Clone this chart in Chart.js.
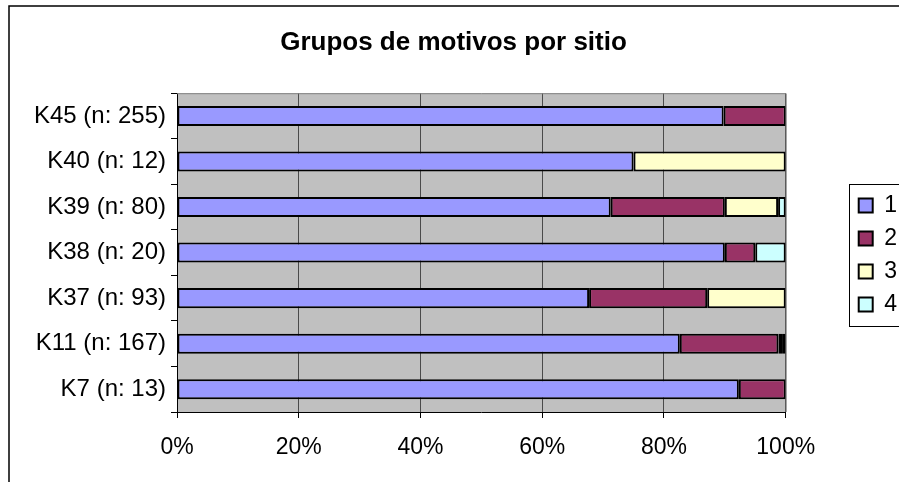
<!DOCTYPE html>
<html>
<head>
<meta charset="utf-8">
<script src="https://cdn.jsdelivr.net/npm/chart.js@4"></script>
<style>
  html, body { margin: 0; padding: 0; background: #fff; }
  #wrap { width: 899px; height: 482px; }
</style>
</head>
<body>
<div id="wrap"><canvas id="chart" width="899" height="482"></canvas></div>
<script>
// Grupos de motivos por sitio – 100% gestapelde balken

const sitios = ["K45 (n: 255)", "K40 (n: 12)", "K39 (n: 80)", "K38 (n: 20)", "K37 (n: 93)", "K11 (n: 167)", "K7 (n: 13)"];
const grupo1 = [89.8, 75, 71.25, 90, 67.7, 82.6, 92.3];
const grupo2 = [10.2, null, 18.75, 5, 19.4, 16.2, 7.7];
const grupo3 = [null, 25, 8.75, null, 12.9, 0.6, null];
const grupo4 = [null, null, 1.25, 5, null, 0.6, null];
const xTicks = ["0%", "20%", "40%", "60%", "80%", "100%"];

const FONT = "'Liberation Sans', Arial, sans-serif";

// achtergrond, plotvlak en randen
const frame = {
  id: 'frame',
  beforeDraw(chart) {
    const { ctx, chartArea: a } = chart;
    ctx.save();
    ctx.fillStyle = '#fff';
    ctx.fillRect(0, 0, chart.width, chart.height);
    ctx.fillStyle = '#C0C0C0';
    ctx.fillRect(a.left, a.top, a.right - a.left, a.bottom - a.top);
    ctx.restore();
  },
  afterDraw(chart) {
    const { ctx, chartArea: a, legend } = chart;
    ctx.save();
    // plotrand boven en rechts
    ctx.strokeStyle = '#808080';
    ctx.lineWidth = 1;
    ctx.beginPath();
    ctx.moveTo(a.left, a.top + 0.5);
    ctx.lineTo(a.right + 0.5, a.top + 0.5);
    ctx.lineTo(a.right + 0.5, a.bottom);
    ctx.stroke();
    // buitenrand
    ctx.strokeStyle = '#000';
    ctx.lineWidth = 1.5;
    ctx.beginPath();
    ctx.moveTo(9, chart.height);
    ctx.lineTo(9, 6);
    ctx.lineTo(chart.width, 6);
    ctx.stroke();
    // legendakader
    const hb = legend.legendHitBoxes;
    if (hb && hb.length) {
      const first = hb[0], last = hb[hb.length - 1];
      const top = Math.round(first.top + first.height / 2 - 22);
      const bottom = Math.round(last.top + last.height / 2 + 21);
      ctx.strokeStyle = '#000';
      ctx.lineWidth = 1;
      ctx.strokeRect(Math.round(legend.left) + 0.5, top + 0.5, 80, bottom - top);
    }
    ctx.restore();
  }
};

function ds(label, data, color) {
  return {
    label: label,
    data: data,
    backgroundColor: color,
    borderColor: '#000',
    borderWidth: 2,
    borderSkipped: false,
    barPercentage: 0.44,
    categoryPercentage: 1
  };
}

new Chart(document.getElementById('chart'), {
  type: 'bar',
  data: {
    labels: sitios,
    datasets: [
      ds('1', grupo1, '#9999FF'),
      ds('2', grupo2, '#993366'),
      ds('3', grupo3, '#FFFFCC'),
      ds('4', grupo4, '#CCFFFF')
    ]
  },
  options: {
    indexAxis: 'y',
    responsive: false,
    animation: false,
    layout: { padding: { left: 0, right: -8, top: 0, bottom: 0 } },
    plugins: {
      title: {
        display: true,
        text: 'Grupos de motivos por sitio',
        color: '#000',
        font: { family: FONT, size: 26, weight: 'bold' },
        padding: { top: 27, bottom: 35 }
      },
      legend: {
        display: true,
        position: 'right',
        // lege titel schuift de items iets omlaag
        title: { display: true, text: ' ', font: { size: 1, lineHeight: 1 }, padding: { top: 27, bottom: 0 } },
        labels: {
          color: '#000',
          font: { family: FONT, size: 23, lineHeight: 1 },
          boxWidth: 14,
          boxHeight: 14,
          padding: 10
        }
      },
      tooltip: { enabled: false }
    },
    scales: {
      x: {
        stacked: true,
        min: 0,
        max: 100,
        ticks: {
          stepSize: 20,
          color: '#000',
          padding: 16,
          font: { family: FONT, size: 23 },
          callback: (v, i) => xTicks[i]
        },
        grid: { color: '#4a4a4a', tickColor: '#000', tickLength: 6 },
        border: { color: '#000', width: 1 },
        afterFit: s => { s.height = 70; }
      },
      y: {
        stacked: true,
        ticks: { color: '#000', padding: 5, font: { family: FONT, size: 24 } },
        grid: { drawOnChartArea: false, color: '#000', tickLength: 6, offset: true },
        border: { color: '#000', width: 1 },
        afterFit: s => { s.width = 177; }
      },
      y2: {
        type: 'category',
        position: 'right',
        display: true,
        ticks: { display: false },
        grid: { display: false },
        border: { display: false },
        afterFit: s => { s.width = 63; }
      }
    }
  },
  plugins: [frame]
});
</script>
</body>
</html>
